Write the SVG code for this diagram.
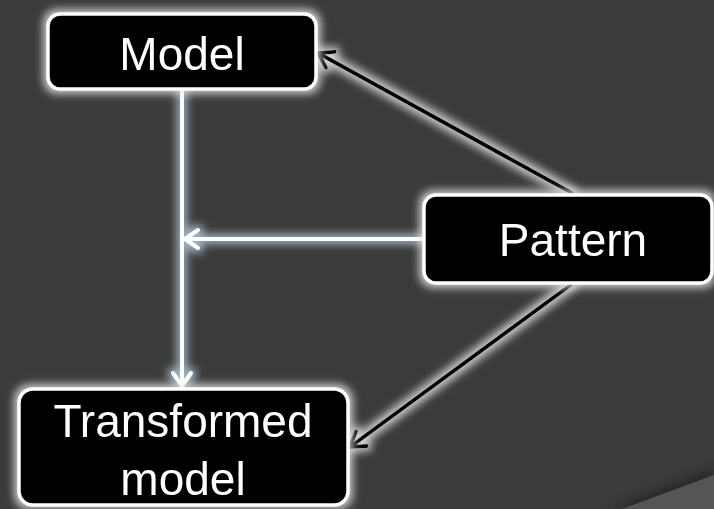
<svg xmlns="http://www.w3.org/2000/svg" width="714" height="509" viewBox="0 0 714 509">
  <defs>
    <style>
      .box { fill: #000; stroke: #fff; stroke-width: 3.5; }
      .label { font-family: "Liberation Sans", Arial, sans-serif; font-size: 46px; fill: #fff; text-anchor: middle; }
      .flow { stroke: #fff; stroke-width: 4; fill: none; stroke-linecap: round; stroke-linejoin: round; }
      .link { stroke: #000; stroke-width: 4; fill: none; stroke-linecap: round; stroke-linejoin: round; }
    </style>
    <!-- soft halo around boxes and black connectors -->
    <filter id="halo" filterUnits="userSpaceOnUse" x="0" y="0" width="714" height="509">
      <feMorphology in="SourceAlpha" operator="dilate" radius="2.5" result="grow"/>
      <feGaussianBlur in="grow" stdDeviation="4" result="blur"/>
      <feFlood flood-color="#e8e8e8" flood-opacity="0.85"/>
      <feComposite in2="blur" operator="in" result="glow"/>
      <feMerge><feMergeNode in="glow"/><feMergeNode in="SourceGraphic"/></feMerge>
    </filter>
    <!-- bluish halo around the white flow lines -->
    <filter id="haloBlue" filterUnits="userSpaceOnUse" x="0" y="0" width="714" height="509">
      <feMorphology in="SourceAlpha" operator="dilate" radius="2.5" result="grow"/>
      <feGaussianBlur in="grow" stdDeviation="4" result="blur"/>
      <feFlood flood-color="#b8d0e0" flood-opacity="0.8"/>
      <feComposite in2="blur" operator="in" result="glow"/>
      <feMerge><feMergeNode in="glow"/><feMergeNode in="SourceGraphic"/></feMerge>
    </filter>
    <filter id="shade" x="-0.2" y="-0.5" width="1.4" height="2">
      <feGaussianBlur stdDeviation="4"/>
    </filter>
    <marker id="openWhite" viewBox="0 0 24 24" refX="20" refY="12" markerWidth="24" markerHeight="24" markerUnits="userSpaceOnUse" orient="auto">
      <path d="M7 3 L20 12 L7 21" fill="none" stroke="#fff" stroke-width="4" stroke-linecap="round" stroke-linejoin="round"/>
    </marker>
    <marker id="openBlack" viewBox="0 0 24 24" refX="20" refY="12" markerWidth="24" markerHeight="24" markerUnits="userSpaceOnUse" orient="auto">
      <path d="M6 3 L20 12 L6 21" fill="none" stroke="#000" stroke-width="4" stroke-linecap="round" stroke-linejoin="round"/>
    </marker>
  </defs>

  <!-- background with folded corner -->
  <rect x="0" y="0" width="714" height="509" fill="#3b3b3b"/>
  <polygon points="608,509 714,468 714,509" fill="#222" filter="url(#shade)" opacity="0.7"/>
  <polygon points="622,509 714,475 714,509" fill="#555"/>

  <g id="connectors">
    <g filter="url(#haloBlue)">
      <line class="flow" x1="182" y1="90" x2="182" y2="386" marker-end="url(#openWhite)"/>
      <line class="flow" x1="423" y1="239" x2="185" y2="239" marker-end="url(#openWhite)"/>
    </g>
    <g filter="url(#halo)">
      <line class="link" x1="572" y1="193" x2="318" y2="53" marker-end="url(#openBlack)"/>
      <line class="link" x1="572" y1="284" x2="350" y2="447" marker-end="url(#openBlack)"/>
    </g>
  </g>

  <g id="model" filter="url(#halo)">
    <rect class="box" x="48" y="14" width="268" height="75" rx="12"/>
    <text class="label" x="182" y="70">Model</text>
  </g>

  <g id="pattern" filter="url(#halo)">
    <rect class="box" x="424" y="195" width="288" height="88" rx="12"/>
    <text class="label" x="573" y="256">Pattern</text>
  </g>

  <g id="transformed-model" filter="url(#halo)">
    <rect class="box" x="19" y="389" width="329" height="116" rx="14"/>
    <text class="label" x="183" y="437">Transformed</text>
    <text class="label" x="183" y="495">model</text>
  </g>
</svg>
